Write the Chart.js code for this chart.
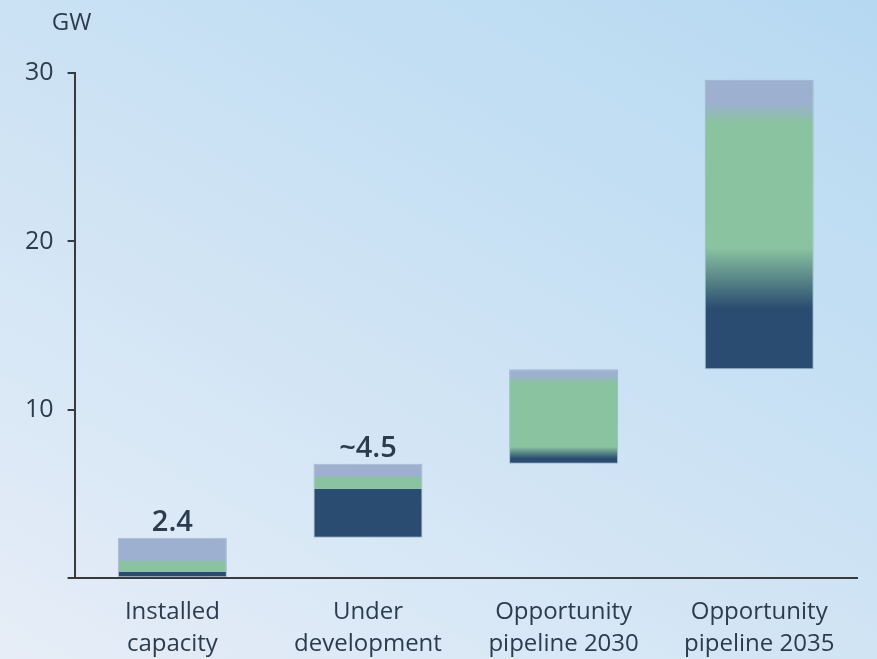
<!DOCTYPE html>
<html>
<head>
<meta charset="utf-8">
<script src="https://cdn.jsdelivr.net/npm/chart.js@4.4.1/dist/chart.umd.min.js"></script>
<style>
  html, body { margin: 0; padding: 0; }
  body {
    width: 877px; height: 659px; overflow: hidden;
    background: linear-gradient(210deg, #b6d9f1 0%, #cbe2f4 45%, #e6edf7 100%);
  }
  #wrap { position: relative; width: 877px; height: 659px; }
</style>
</head>
<body>
<div id="wrap"><canvas id="chart"></canvas></div>
<script>
// categories and floating bar ranges (GW)
const categories = [['Installed', 'capacity'], ['Under', 'development'], ['Opportunity', 'pipeline 2030'], ['Opportunity', 'pipeline 2035']];
const barLow = [0, 2.4, 6.8, 12.4];
const barHigh = [2.4, 6.8, 12.4, 29.6];
const valueLabels = ['2.4', '~4.5', '', ''];

// colour band edges inside each bar (GW)
const darkTo = [0.35, 5.3, 7.1, 16.0];
const greenFrom = [0.35, 5.3, 7.8, 19.6];
const greenTo = [1.0, 6.0, 11.6, 27.0];
const lavFrom = [1.0, 6.0, 12.0, 28.2];

const yTicks = [0, 10, 20, 30];

const DARK = '#2a4c70';
const GREEN = '#89c3a0';
const LAV = '#9db0cf';
const TEXT = '#2c3c4d';
const FONT = '"Open Sans", Lato, sans-serif';

function barFill(ctx) {
  const chart = ctx.chart;
  const i = ctx.dataIndex;
  const y = chart.scales.y;
  if (!chart.chartArea || i === undefined) return DARK;
  const y0 = y.getPixelForValue(barLow[i]);
  const y1 = y.getPixelForValue(barHigh[i]);
  const g = chart.ctx.createLinearGradient(0, y0, 0, y1);
  const span = barHigh[i] - barLow[i];
  const f = v => Math.min(1, Math.max(0, (v - barLow[i]) / span));
  g.addColorStop(0, DARK);
  g.addColorStop(f(darkTo[i]), DARK);
  g.addColorStop(f(greenFrom[i]), GREEN);
  g.addColorStop(f(greenTo[i]), GREEN);
  g.addColorStop(f(lavFrom[i]), LAV);
  g.addColorStop(1, LAV);
  return g;
}

const extras = {
  id: 'extras',
  afterDatasetsDraw(chart) {
    const c = chart.ctx;
    const meta = chart.getDatasetMeta(0);
    c.save();
    c.fillStyle = TEXT;
    c.textAlign = 'center';
    c.textBaseline = 'alphabetic';
    c.font = '600 29px ' + FONT;
    meta.data.forEach((bar, i) => {
      if (valueLabels[i]) c.fillText(valueLabels[i], bar.x, bar.y - 7);
    });
    c.font = '24px ' + FONT;
    c.fillText('GW', chart.chartArea.left - 3, 30);
    c.restore();
  }
};

new Chart(document.getElementById('chart'), {
  type: 'bar',
  data: {
    labels: categories,
    datasets: [{
      data: barLow.map((lo, i) => [lo, barHigh[i]]),
      backgroundColor: barFill,
      borderColor: 'rgba(120,140,170,0.5)',
      borderWidth: 1,
      borderSkipped: false,
      barPercentage: 0.557,
      categoryPercentage: 1
    }]
  },
  options: {
    responsive: true,
    maintainAspectRatio: false,
    animation: false,
    layout: { padding: { top: 73, right: 20, left: 11, bottom: -11 } },
    plugins: { legend: { display: false }, tooltip: { enabled: false } },
    scales: {
      x: {
        grid: { display: false },
        border: { display: true, color: '#3a3a3a', width: 2 },
        ticks: { color: TEXT, font: { family: FONT, size: 24, lineHeight: 1.33 }, padding: 10, maxRotation: 0 }
      },
      y: {
        min: 0, max: 30,
        afterBuildTicks: s => { s.ticks = yTicks.map(v => ({ value: v })); },
        grid: { drawOnChartArea: false, drawTicks: true, tickLength: 7, color: '#3a3a3a', lineWidth: 2 },
        border: { display: true, color: '#3a3a3a', width: 2 },
        ticks: {
          color: TEXT, font: { family: FONT, size: 25 }, padding: 14,
          callback: v => (v === 0 ? '' : v)
        }
      }
    }
  },
  plugins: [extras]
});
</script>
</body>
</html>
